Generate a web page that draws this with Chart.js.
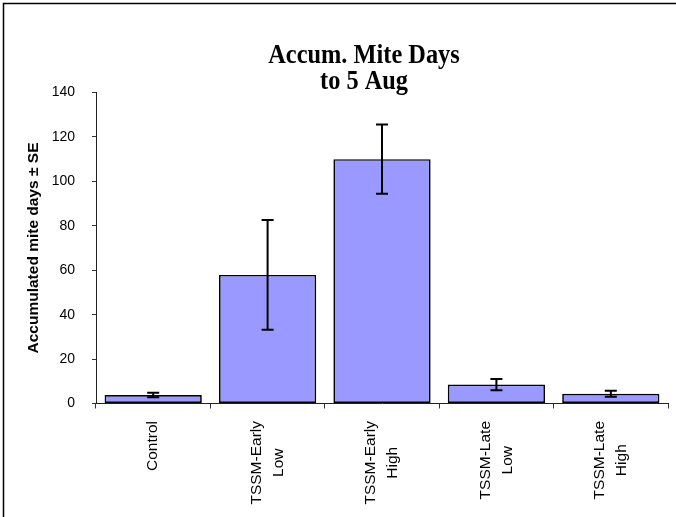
<!DOCTYPE html>
<html>
<head>
<meta charset="utf-8">
<script src="https://cdn.jsdelivr.net/npm/chart.js@4"></script>
<style>
  html, body { margin: 0; padding: 0; background: #fff; }
  #wrap { width: 676px; height: 517px; position: relative; }
</style>
</head>
<body>
<div id="wrap"><canvas id="miteChart" width="676" height="517"></canvas></div>
<script>
// data
const categories = [['Control'], ['TSSM-Early', 'Low'], ['TSSM-Early', 'High'], ['TSSM-Late', 'Low'], ['TSSM-Late', 'High']];
const mites = [3.8, 57.9, 110.0, 8.5, 4.4];
const mitesSE = [1.0, 24.7, 15.6, 2.5, 1.35];
const titleLines = ['Accum. Mite Days', 'to 5 Aug'];
const yTitle = 'Accumulated mite days \u00b1 SE';

// frame + title
const decorPlugin = {
    id: 'decor',
    beforeDraw(chart) {
        const ctx = chart.ctx;
        ctx.save();
        ctx.strokeStyle = '#000';
        ctx.lineWidth = 1.5;
        ctx.beginPath();
        ctx.moveTo(3.5, 517);
        ctx.lineTo(3.5, 3.5);
        ctx.lineTo(676, 3.5);
        ctx.stroke();

        ctx.fillStyle = '#000';
        ctx.font = 'bold 28px "Liberation Serif", "Times New Roman", serif';
        ctx.textAlign = 'center';
        ctx.textBaseline = 'alphabetic';
        titleLines.forEach((line, i) => {
            ctx.save();
            ctx.translate(364, 63 + i * 26);
            ctx.scale(0.87, 1);
            ctx.fillText(line, 0, 0);
            ctx.restore();
        });
        ctx.restore();
    }
};

// error bars
const errorBarPlugin = {
    id: 'errorBars',
    afterDatasetsDraw(chart) {
        const ctx = chart.ctx;
        const yScale = chart.scales.y;
        const meta = chart.getDatasetMeta(0);
        ctx.save();
        ctx.strokeStyle = '#000';
        ctx.lineWidth = 2;
        meta.data.forEach((bar, i) => {
            const x = bar.x;
            const top = yScale.getPixelForValue(mites[i] + mitesSE[i]);
            const bottom = yScale.getPixelForValue(mites[i] - mitesSE[i]);
            ctx.beginPath();
            ctx.moveTo(x, top); ctx.lineTo(x, bottom);
            ctx.moveTo(x - 6, top); ctx.lineTo(x + 6, top);
            ctx.moveTo(x - 6, bottom); ctx.lineTo(x + 6, bottom);
            ctx.stroke();
        });
        ctx.restore();
    }
};

// rotated, centred multi-line category labels
const xLabelPlugin = {
    id: 'xLabels',
    afterDraw(chart) {
        const ctx = chart.ctx;
        const xScale = chart.scales.x;
        ctx.save();
        ctx.fillStyle = '#000';
        ctx.font = '15.5px "Liberation Sans", Arial, sans-serif';
        ctx.textAlign = 'center';
        ctx.textBaseline = 'middle';
        categories.forEach((lines, i) => {
            const x = xScale.getPixelForValue(i);
            const w = Math.max(...lines.map(l => ctx.measureText(l).width));
            ctx.save();
            ctx.translate(x, 421);
            ctx.rotate(-Math.PI / 2);
            lines.forEach((l, j) => {
                ctx.fillText(l, -w / 2, (j - (lines.length - 1) / 2) * 22);
            });
            ctx.restore();
        });
        ctx.restore();
    }
};

new Chart(document.getElementById('miteChart'), {
    type: 'bar',
    data: {
        labels: categories,
        datasets: [{
            data: mites,
            backgroundColor: '#9999ff',
            borderColor: '#000',
            borderWidth: 1.7,
            borderSkipped: false,
            barPercentage: 0.85,
            categoryPercentage: 1.0
        }]
    },
    options: {
        responsive: false,
        animation: false,
        layout: { padding: { top: 92.5, right: 8, left: 0, bottom: 0 } },
        scales: {
            x: {
                grid: { display: true, offset: true, drawOnChartArea: false, drawTicks: true, tickLength: 5, color: '#333' },
                border: { display: true, color: '#222', width: 1 },
                ticks: { display: false },
                afterFit(scale) { scale.height = 517 - 403.5; }
            },
            y: {
                min: 0,
                max: 140,
                ticks: {
                    stepSize: 20,
                    padding: 17,
                    color: '#000',
                    font: { family: '"Liberation Sans", Arial, sans-serif', size: 14 }
                },
                grid: { display: true, drawOnChartArea: false, drawTicks: true, tickLength: 4, color: '#333' },
                border: { display: true, color: '#222', width: 1 },
                title: {
                    display: true,
                    text: yTitle,
                    color: '#000',
                    padding: { top: 24, bottom: 0 },
                    font: { family: '"Liberation Sans", Arial, sans-serif', size: 15.5, weight: 'bold' }
                },
                afterFit(scale) { scale.width = 96; }
            }
        },
        plugins: {
            legend: { display: false },
            title: { display: false },
            tooltip: { enabled: false }
        }
    },
    plugins: [decorPlugin, errorBarPlugin, xLabelPlugin]
});
</script>
</body>
</html>
